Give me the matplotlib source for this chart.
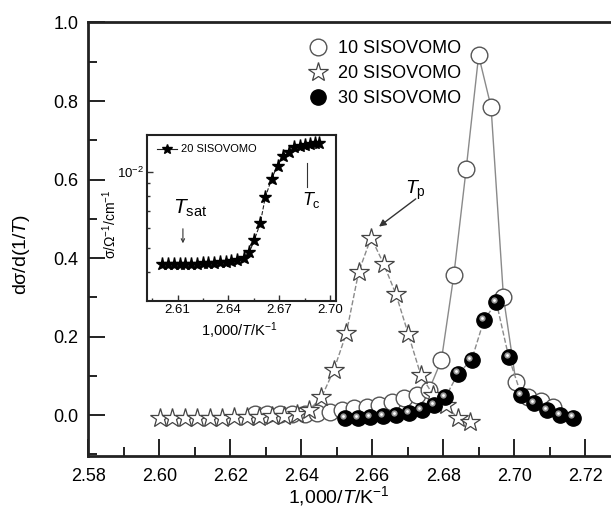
import numpy as np
import matplotlib
matplotlib.use('Agg')
import matplotlib.pyplot as plt
from matplotlib.transforms import offset_copy
from matplotlib.lines import Line2D
from matplotlib.ticker import MultipleLocator, LogLocator, NullFormatter

plt.rcParams['font.family'] = ['Liberation Sans', 'DejaVu Sans']
plt.rcParams['mathtext.fontset'] = 'custom'
plt.rcParams['mathtext.rm'] = 'Liberation Sans'
plt.rcParams['mathtext.it'] = 'Liberation Sans:italic'

# main panel: d(sigma)/d(1/T)
x10 = [2.627, 2.6305, 2.634, 2.6375, 2.641, 2.6445, 2.648, 2.6515, 2.655, 2.6585,
       2.662, 2.6655, 2.669, 2.6725, 2.676, 2.6795, 2.683, 2.6865, 2.690, 2.6935,
       2.697, 2.7005, 2.704, 2.7075, 2.711]
y10 = [0.002, 0.003, 0.003, 0.004, 0.004, 0.005, 0.008, 0.013, 0.018, 0.020,
       0.025, 0.033, 0.043, 0.051, 0.064, 0.140, 0.356, 0.628, 0.916, 0.785,
       0.300, 0.085, 0.045, 0.035, 0.020]

x20 = [2.6002, 2.6037, 2.6072, 2.6107, 2.6142, 2.6177, 2.6212, 2.6247, 2.6282,
       2.6317, 2.6352, 2.6387, 2.6422, 2.6457, 2.6492, 2.6527, 2.6562, 2.6597,
       2.6632, 2.6667, 2.6702, 2.6737, 2.6772, 2.6807, 2.6842, 2.6877]
y20 = [-0.008, -0.008, -0.007, -0.007, -0.006, -0.006, -0.005, -0.005, -0.004,
       -0.003, -0.001, 0.002, 0.013, 0.045, 0.115, 0.208, 0.365, 0.452,
       0.386, 0.308, 0.206, 0.102, 0.051, 0.025, -0.008, -0.017]

x30 = [2.6523, 2.6559, 2.6595, 2.6631, 2.6667, 2.6703, 2.6739, 2.6775, 2.6806,
       2.6842, 2.688, 2.6915, 2.695, 2.6985, 2.702, 2.7057, 2.7093, 2.713, 2.7166]
y30 = [-0.008, -0.007, -0.005, -0.003, 0.000, 0.005, 0.012, 0.025, 0.045,
       0.106, 0.140, 0.242, 0.287, 0.147, 0.052, 0.032, 0.013, 0.000, -0.006]

# inset: sigma vs 1000/T for 20 SISOVOMO
xin = [2.601, 2.6044, 2.6078, 2.6112, 2.6146, 2.618, 2.6214, 2.6248, 2.6282,
       2.6316, 2.635, 2.6384, 2.6418, 2.6452, 2.6494, 2.6524, 2.6553, 2.6588,
       2.6618, 2.6655, 2.669, 2.6725, 2.676, 2.679, 2.682, 2.685, 2.688, 2.691,
       2.6935]
yin = [0.00430, 0.00430, 0.00431, 0.00431, 0.00432, 0.00432, 0.00433, 0.00434,
       0.00435, 0.00437, 0.00439, 0.00441, 0.00444, 0.00448, 0.00455, 0.00480,
       0.00537, 0.00625, 0.00794, 0.00938, 0.0106, 0.01157, 0.0120, 0.0125,
       0.01265, 0.0128, 0.0129, 0.0130, 0.0130]

fig = plt.figure(figsize=(6.11, 5.17), dpi=100)
ax = fig.add_axes([0.1445, 0.118, 0.8555, 0.8385])

ax.plot(x10, y10, '-', color='#8a8a8a', lw=1, marker='o', ms=12,
        mfc='white', mec='#555555', mew=1, zorder=2)
ax.plot(x20, y20, '--', color='#8a8a8a', lw=1, marker='*', ms=15,
        mfc='white', mec='#444444', mew=0.9, zorder=3)
ax.plot(x30, y30, '--', color='#8a8a8a', lw=1, marker='o', ms=11,
        mfc='black', mec='black', zorder=4)
hl = offset_copy(ax.transData, fig=fig, x=-1.5, y=1.5, units='points')
ax.plot(x30, y30, 'o', ms=4.5, color='#9a9a9a', mec='none', transform=hl, zorder=4.1)
ax.plot(x30, y30, 'o', ms=2, color='white', mec='none', transform=hl, zorder=4.2)

ax.set_xlim(2.58, 2.7273)
ax.set_ylim(-0.104, 1.0)
ax.xaxis.set_major_locator(MultipleLocator(0.02))
ax.xaxis.set_minor_locator(MultipleLocator(0.01))
ax.yaxis.set_major_locator(MultipleLocator(0.2))
ax.yaxis.set_minor_locator(MultipleLocator(0.1))
ax.xaxis.set_major_formatter(matplotlib.ticker.FormatStrFormatter('%.2f'))
ax.yaxis.set_major_formatter(matplotlib.ticker.FormatStrFormatter('%.1f'))
ax.tick_params(which='both', direction='in', top=False, right=False,
               width=1.4, color='#222222', labelsize=13)
ax.tick_params(which='major', length=12, pad=7)
ax.tick_params(which='minor', length=6.5)
ax.tick_params(axis='x', which='major', pad=9)
for s in ['left', 'bottom', 'top']:
    ax.spines[s].set_linewidth(2)
    ax.spines[s].set_color('#222222')
ax.spines['right'].set_visible(False)

ax.set_xlabel('1,000/$T$/K$^{-1}$', fontsize=14)
ax.set_ylabel('d\u03c3/d(1/$T$)', fontsize=14)
ax.xaxis.set_label_coords(0.48, -0.065)
ax.yaxis.set_label_coords(-0.108, 0.466)

handles = [
    Line2D([], [], ls='none', marker='o', ms=12, mfc='white', mec='#555555'),
    Line2D([], [], ls='none', marker='*', ms=15, mfc='white', mec='#444444', mew=0.9),
    Line2D([], [], ls='none', marker='o', ms=11, mfc='black', mec='black'),
]
ax.legend(handles, ['10 SISOVOMO', '20 SISOVOMO', '30 SISOVOMO'],
          loc='upper left', bbox_to_anchor=(0.392, 0.997), frameon=False,
          fontsize=13, handlelength=1.0, handletextpad=0.6, labelspacing=0.45)

ax.annotate('', xy=(2.6613, 0.476), xytext=(2.6729, 0.555),
            arrowprops=dict(arrowstyle='-|>', color='#333333', lw=1,
                            mutation_scale=10))
ax.text(2.6723, 0.572, '$T_{\\mathrm{p}}$', fontsize=14, ha='center', va='center')

# inset
axi = fig.add_axes([0.2406, 0.4178, 0.3093, 0.321])
axi.plot(xin, yin, '--', color='#222222', lw=0.8, marker='*', ms=9.5,
         mfc='black', mec='black')
axi.set_yscale('log')
axi.set_xlim(2.592, 2.7035)
axi.set_ylim(0.00308, 0.0140)
axi.xaxis.set_major_locator(MultipleLocator(0.03))
axi.xaxis.set_minor_locator(MultipleLocator(0.015))
axi.xaxis.set_major_formatter(matplotlib.ticker.FormatStrFormatter('%.2f'))
axi.yaxis.set_major_locator(LogLocator(base=10))
axi.yaxis.set_minor_locator(LogLocator(base=10, subs=np.arange(2, 10)))
axi.yaxis.set_minor_formatter(NullFormatter())
axi.tick_params(which='both', direction='in', top=False, right=False,
                width=1, color='#333333', labelsize=9.5, pad=2.5)
axi.tick_params(which='major', length=4)
axi.tick_params(which='minor', length=2.5)
for s in axi.spines.values():
    s.set_linewidth(1.5)
    s.set_color('#222222')
axi.set_xlabel('1,000/$T$/K$^{-1}$', fontsize=10.5)
axi.set_ylabel('\u03c3/\u03a9$^{-1}$/cm$^{-1}$', fontsize=10)
axi.xaxis.set_label_coords(0.49, -0.115)
axi.yaxis.set_label_coords(-0.15, 0.46)
axi.legend([Line2D([], [], ls='-', color='#222222', lw=0.8, marker='*', ms=7.5,
                   mfc='black', mec='black')], ['20 SISOVOMO'],
           loc='upper left', bbox_to_anchor=(0.01, 0.99), frameon=False,
           fontsize=8, handlelength=1.8, handletextpad=0.4, borderaxespad=0.3)

axi.annotate('', xy=(0.19, 0.331), xytext=(0.19, 0.452), xycoords='axes fraction',
             arrowprops=dict(arrowstyle='->', color='#333333', lw=0.8,
                             mutation_scale=6))
axi.text(0.23, 0.56, '$T_{\\mathrm{sat}}$', fontsize=15, ha='center', va='center',
         transform=axi.transAxes)
axi.plot([0.845, 0.845], [0.687, 0.831], color='#333333', lw=0.8,
         transform=axi.transAxes)
axi.text(0.87, 0.61, '$T_{\\mathrm{c}}$', fontsize=13, ha='center', va='center',
         transform=axi.transAxes)

fig.savefig('out.png', dpi=100)
